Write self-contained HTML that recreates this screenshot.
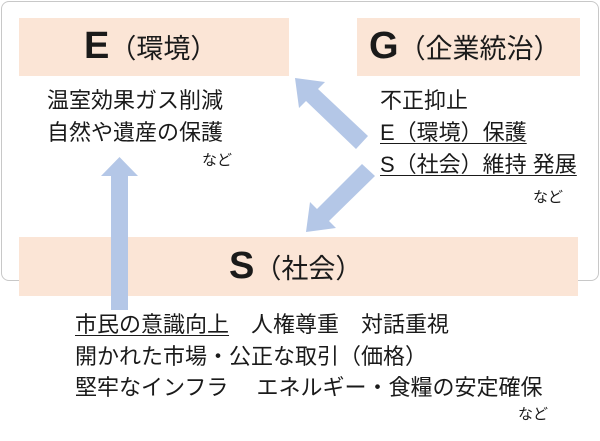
<!DOCTYPE html>
<html><head><meta charset="utf-8"><style>
body{margin:0;width:600px;height:441px;background:#fff;position:relative;overflow:hidden;font-family:"Liberation Sans","Noto Sans CJK JP",sans-serif;color:#1a1a1a}
.a{position:absolute;white-space:nowrap;line-height:1}
.box{position:absolute;background:#fbe5d6}
.t{font-size:22px}
.u{text-decoration:underline;text-underline-offset:3px;text-decoration-thickness:1px}
.h{font-size:38px;font-weight:bold}
.p{font-size:27px;font-weight:normal}
.n{font-size:15px}
</style></head><body>
<div style="position:absolute;left:1px;top:1px;width:596px;height:278px;border:1px solid #c8c8c8;border-radius:8px"></div>
<div class="box" style="left:19px;top:18px;width:270px;height:58px"></div>
<div class="box" style="left:357px;top:18px;width:223px;height:58px"></div>
<div class="box" style="left:19px;top:237px;width:559px;height:59px"></div>
<svg style="position:absolute;left:0;top:0" width="600" height="441">
<g fill="#b4c7e7">
<polygon points="111,310 128,310 128,176 138,176 119.5,157 101,176 111,176"/>
<polygon points="368,136 356,149 306,101 299,108 295,78 325,82 318,89"/>
<polygon points="362,164 375,176 329,221 336,228 306,232 310,202 317,209"/>
</g></svg>
<div class="a h" style="left:84px;top:27px">E<span class="p">（環境）</span></div>
<div class="a h" style="left:369px;top:27px">G<span class="p">（企業統治）</span></div>
<div class="a h" style="left:229px;top:247px">S<span class="p">（社会）</span></div>
<div class="a t" style="left:47px;top:90px">温室効果ガス削減</div>
<div class="a t" style="left:47px;top:122px">自然や遺産の保護</div>
<div class="a n" style="left:202px;top:153px">など</div>
<div class="a t" style="left:380px;top:90px">不正抑止</div>
<div class="a t u" style="left:380px;top:122px">E（環境）保護</div>
<div class="a t u" style="left:380px;top:154px">S（社会）維持 発展</div>
<div class="a n" style="left:533px;top:190px">など</div>
<div class="a t" style="left:75px;top:314px"><span class="u">市民の意識向上</span>　人権尊重　対話重視</div>
<div class="a t" style="left:75px;top:346px">開かれた市場・公正な取引（価格）</div>
<div class="a t" style="left:75px;top:377px">堅牢なインフラ　 エネルギー・食糧の安定確保</div>
<div class="a n" style="left:518px;top:407px">など</div>
</body></html>
